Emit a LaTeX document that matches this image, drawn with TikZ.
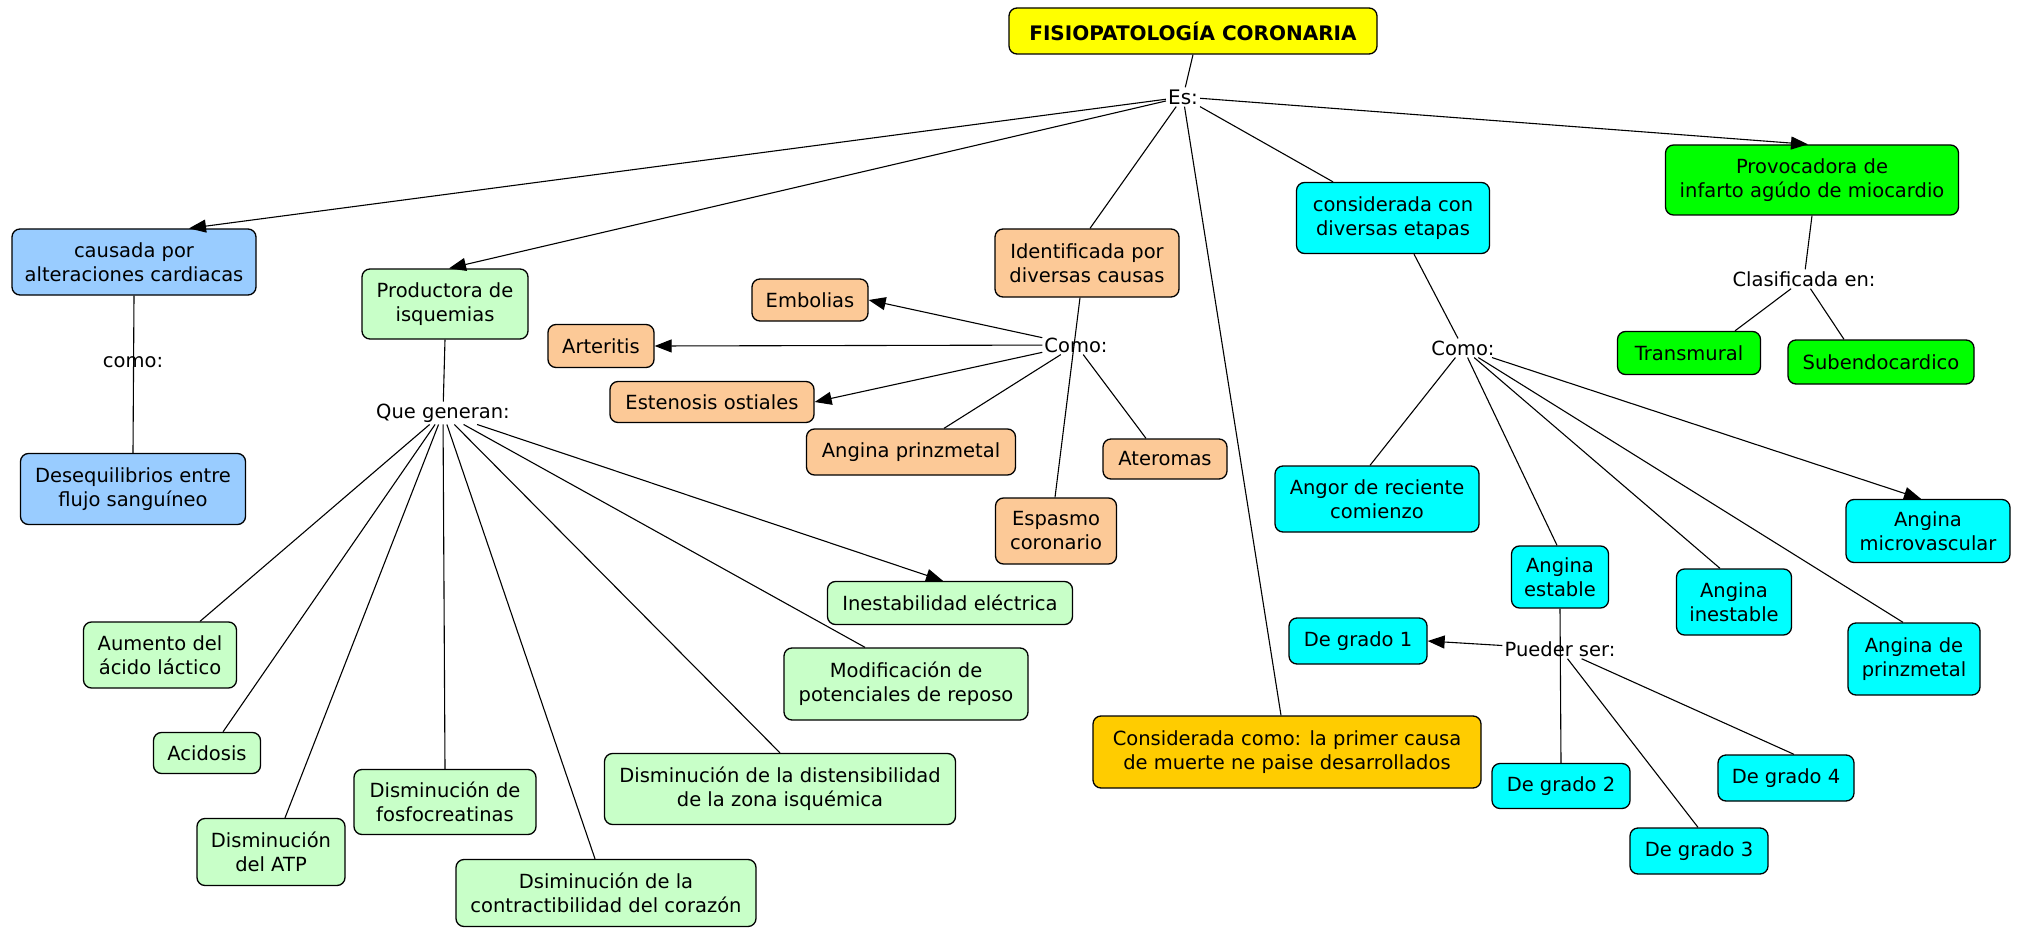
\documentclass[tikz,border=0pt]{standalone}
\usepackage{fontspec}
\setmainfont{DejaVu Sans}
\usetikzlibrary{arrows.meta}
\definecolor{cyel}{HTML}{FFFF00}
\definecolor{cblue}{HTML}{99CCFF}
\definecolor{cgreen}{HTML}{C8FFC8}
\definecolor{corange}{HTML}{FCC997}
\definecolor{ccyan}{HTML}{00FFFF}
\definecolor{clime}{HTML}{00FF00}
\definecolor{camber}{HTML}{FFCC00}
\tikzset{
  box/.style={draw=black, line width=1.3pt, rounded corners=8pt, align=center, inner sep=2pt, font=\fontsize{19.5}{24}\selectfont},
  cbox/.style={box},
  lbl/.style={inner sep=2pt, font=\fontsize{19.5}{22}\selectfont},
  clbl/.style={lbl},
  con/.style={line width=1.1pt},
  arr/.style={con, -{Triangle[length=17pt,width=13pt]}}
}
\begin{document}
\begin{tikzpicture}[x=1pt,y=-1pt]
\fill[white] (0,0) rectangle (2019,928);
\useasboundingbox (0,0) rectangle (2019,928);
% nodes
\node[box, fill=cyel, minimum width=368pt, minimum height=46pt, font=\bfseries\fontsize{20}{24}\selectfont] (title) at (1193,31) {FISIOPATOLOGÍA CORONARIA};
\node[lbl, font=\fontsize{20}{22}\selectfont] (es) at (1183,97) {Es:};
\node[box, fill=cblue, minimum width=244pt, minimum height=66pt] (causada) at (134,262) {causada por\\alteraciones cardiacas};
\node[lbl] (como0) at (133,362) {como:};
\node[box, fill=cblue, minimum width=225pt, minimum height=71pt] (deseq) at (133,489) {Desequilibrios entre\\flujo sanguíneo};
\node[box, fill=cgreen, minimum width=166pt, minimum height=70pt] (product) at (445,304) {Productora de\\isquemias};
\node[lbl] (qg) at (443,413) {Que generan:};
\node[cbox, fill=corange, minimum width=184pt, minimum height=68pt] (ident) at (1087,263) {Identificada por\\diversas causas};
\node[clbl] (como1) at (1076,345) {Como:};
\node[cbox, fill=corange, minimum width=116pt, minimum height=42pt] (embol) at (810,300) {Embolias};
\node[cbox, fill=corange, minimum width=106pt, minimum height=43pt] (arter) at (601,346) {Arteritis};
\node[cbox, fill=corange, minimum width=204pt, minimum height=41pt] (esten) at (712,402) {Estenosis ostiales};
\node[cbox, fill=corange, minimum width=209pt, minimum height=46pt] (aprinz) at (911,452) {Angina prinzmetal};
\node[cbox, fill=corange, minimum width=124pt, minimum height=40pt] (aterom) at (1165,459) {Ateromas};
\node[cbox, fill=corange, minimum width=121pt, minimum height=66pt] (espasmo) at (1056,531) {Espasmo\\coronario};
\node[cbox, fill=ccyan, minimum width=193pt, minimum height=71pt] (consid) at (1393,218) {considerada con\\diversas etapas};
\node[cbox, fill=clime, minimum width=293pt, minimum height=70pt] (provoc) at (1812,180) {Provocadora de\\infarto agúdo de miocardio};
\node[clbl] (clas) at (1804,279) {Clasificada en:};
\node[cbox, fill=clime, minimum width=143pt, minimum height=43pt] (transm) at (1689,353) {Transmural};
\node[cbox, fill=clime, minimum width=186pt, minimum height=44pt] (subendo) at (1881,362) {Subendocardico};
\node[clbl] (como2) at (1463,348) {Como:};
\node[cbox, fill=ccyan, minimum width=204pt, minimum height=66pt] (angor) at (1377,499) {Angor de reciente\\comienzo};
\node[cbox, fill=ccyan, minimum width=164pt, minimum height=63pt] (amicro) at (1928,531) {Angina\\microvascular};
\node[cbox, fill=ccyan, minimum width=97pt, minimum height=62pt] (aestab) at (1560,577) {Angina\\estable};
\node[cbox, fill=ccyan, minimum width=115pt, minimum height=66pt] (ainest) at (1734,602) {Angina\\inestable};
\node[cbox, fill=ccyan, minimum width=132pt, minimum height=72pt] (aprinz2) at (1914,659) {Angina de\\prinzmetal};
\node[clbl] (pueder) at (1560,649) {Pueder ser:};
\node[cbox, fill=ccyan, minimum width=138pt, minimum height=46pt] (g1) at (1358,641) {De grado 1};
\node[cbox, fill=ccyan, minimum width=138pt, minimum height=45pt] (g2) at (1561,786) {De grado 2};
\node[cbox, fill=ccyan, minimum width=138pt, minimum height=46pt] (g3) at (1699,851) {De grado 3};
\node[cbox, fill=ccyan, minimum width=136pt, minimum height=46pt] (g4) at (1786,778) {De grado 4};
\node[box, fill=camber, minimum width=388pt, minimum height=72pt] (ccomo) at (1287,752) {Considerada como: la primer causa\\ de muerte ne paise desarrollados};
\node[cbox, fill=cgreen, minimum width=245pt, minimum height=43pt] (inest) at (950,603) {Inestabilidad eléctrica};
\node[cbox, fill=cgreen, minimum width=244pt, minimum height=72pt] (modif) at (906,684) {Modificación de\\potenciales de reposo};
\node[cbox, fill=cgreen, minimum width=153pt, minimum height=66pt] (aumento) at (160,655) {Aumento del\\ácido láctico};
\node[cbox, fill=cgreen, minimum width=107pt, minimum height=41pt] (acidosis) at (207,753) {Acidosis};
\node[cbox, fill=cgreen, minimum width=182pt, minimum height=65pt] (fosfo) at (445,802) {Disminución de\\fosfocreatinas};
\node[cbox, fill=cgreen, minimum width=351pt, minimum height=71pt] (distens) at (780,789) {Disminución de la distensibilidad\\de la zona isquémica};
\node[cbox, fill=cgreen, minimum width=148pt, minimum height=67pt] (atp) at (271,852) {Disminución\\del ATP};
\node[cbox, fill=cgreen, minimum width=300pt, minimum height=67pt] (contract) at (606,893) {Dsiminución de la\\contractibilidad del corazón};
% connectors
\draw[con] (title.south) -- (es);
\draw[arr] (es) -- ([xshift=55pt]causada.north);
\draw[arr] (es) -- ([xshift=4pt]product.north);
\draw[con] (es) -- ([xshift=3pt]ident.north);
\draw[con] (es) -- ([xshift=-6pt]ccomo.north);
\draw[con] (es) -- ([xshift=-60pt]consid.north);
\draw[arr] (es) -- ([xshift=-4pt]provoc.north);
\draw[con] (causada.south) -- (deseq.north);
\draw[con] ([xshift=-7pt]ident.south) -- ([xshift=-1pt]espasmo.north);
\draw[arr] (como1) -- (embol.east);
\draw[arr] (como1) -- (arter.east);
\draw[arr] (como1) -- (esten.east);
\draw[con] (como1) -- ([xshift=33pt]aprinz.north);
\draw[con] (como1) -- ([xshift=-19pt]aterom.north);
\draw[con] (product.south) -- (qg);
\draw[con] (qg) -- ([xshift=40pt]aumento.north);
\draw[con] (qg) -- ([xshift=16pt]acidosis.north);
\draw[con] (qg) -- ([xshift=14pt]atp.north);
\draw[con] (qg) -- (fosfo.north);
\draw[con] (qg) -- ([xshift=-11pt]contract.north);
\draw[con] (qg) -- (distens.north);
\draw[con] (qg) -- ([xshift=-41pt]modif.north);
\draw[arr] (qg) -- ([xshift=-7pt]inest.north);
\draw[con] (provoc.south) -- (clas);
\draw[con] (clas) -- ([xshift=46pt]transm.north);
\draw[con] (clas) -- ([xshift=-37pt]subendo.north);
\draw[con] ([xshift=21pt]consid.south) -- (como2);
\draw[con] (como2) -- ([xshift=-7pt]angor.north);
\draw[con] (como2) -- ([xshift=-3pt]aestab.north);
\draw[con] (como2) -- ([xshift=-14pt]ainest.north);
\draw[con] (como2) -- ([xshift=-11pt]aprinz2.north);
\draw[arr] (como2) -- ([xshift=-7pt]amicro.north);
\draw[con] (aestab.south) -- (g2.north);
\draw[arr] (pueder) -- (g1.east);
\draw[con] (pueder) -- ([xshift=-1pt]g3.north);
\draw[con] (pueder) -- ([xshift=8pt]g4.north);
\end{tikzpicture}
\end{document}
